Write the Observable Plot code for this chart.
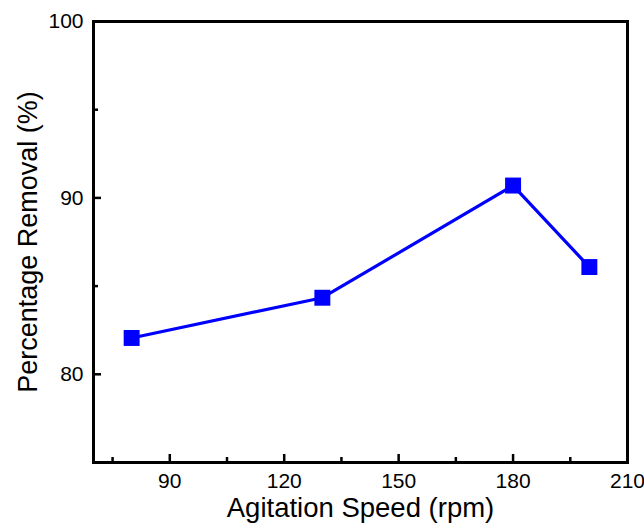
<!DOCTYPE html>
<html>
<head>
<meta charset="utf-8">
<script src="https://cdn.jsdelivr.net/npm/d3@7"></script>
<script src="https://cdn.jsdelivr.net/npm/@observablehq/plot@0.6"></script>
<style>
  html, body { margin: 0; padding: 0; background: #fff; }
  #chart svg { font-family: "Liberation Sans", Arial, sans-serif; }
</style>
</head>
<body>
<div id="chart"></div>
<script>
const speeds = [80, 130, 180, 200];
const removal = [82.06, 84.34, 90.7, 86.08];
const xMajorTicks = [90, 120, 150, 180, 210];
const xMinorTicks = [75, 105, 135, 165, 195];
const yMajorTicks = [80, 90, 100];
const yMinorTicks = [85, 95];
const xTitle = "Agitation Speed (rpm)";
const yTitle = "Percentage Removal (%)";

const data = speeds.map((s, i) => ({speed: s, value: removal[i]}));

const chart = Plot.plot({
  width: 644,
  height: 524,
  marginLeft: 93,
  marginRight: 17,
  marginTop: 21,
  marginBottom: 62,
  style: {background: "#fff", color: "#000"},
  x: {domain: [70, 210]},
  y: {domain: [75, 100]},
  marks: [
    Plot.axisX({ticks: xMajorTicks, tickSize: -8, tickPadding: 19, strokeWidth: 2.5, fontSize: 21, label: null}),
    Plot.axisX({ticks: xMinorTicks, tickSize: -5, strokeWidth: 2.5, tickFormat: () => "", label: null}),
    Plot.axisY({ticks: yMajorTicks, tickSize: -8, tickPadding: 18, strokeWidth: 2.5, fontSize: 21, label: null}),
    Plot.axisY({ticks: yMinorTicks, tickSize: -5, strokeWidth: 2.5, tickFormat: () => "", label: null}),
    Plot.frame({stroke: "#000", strokeWidth: 3}),
    Plot.line(data, {x: "speed", y: "value", stroke: "#0000ff", strokeWidth: 3.2}),
    Plot.dot(data, {x: "speed", y: "value", symbol: "square", r: 9, fill: "#0000ff", stroke: "none"}),
    Plot.text([xTitle], {frameAnchor: "bottom", dy: 46, fontSize: 27.5, textAnchor: "middle", lineAnchor: "middle", text: d => d, fill: "#000"}),
    Plot.text([yTitle], {frameAnchor: "left", dx: -65, rotate: -90, fontSize: 27, textAnchor: "middle", lineAnchor: "middle", text: d => d, fill: "#000"})
  ]
});
document.getElementById("chart").appendChild(chart);
</script>
</body>
</html>
